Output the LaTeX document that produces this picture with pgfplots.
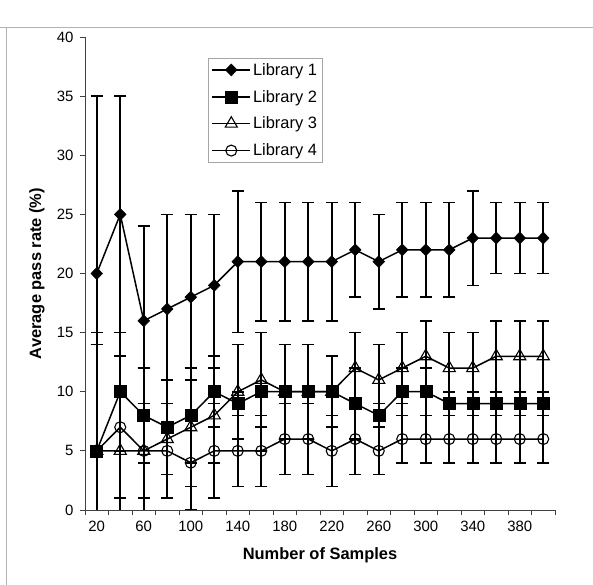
\documentclass[border=0pt]{standalone}
\usepackage{fontspec}
\setmainfont{Liberation Sans}
\usepackage{pgfplots}
\pgfplotsset{compat=1.18}
\usepackage{pgfplotstable}

% i = category index (20,40,...,400), y = mean, e = error
\pgfplotstableread{
i y1 e1 y2 e2 y3 e3 y4 e4
1 20 15 5 10 5 9 5 9
2 25 10 10 5 5 8 7 6
3 16 8 8 4 5 7 5 4
4 17 8 7 4 6 5 5 4
5 18 7 8 4 7 5 4 4
6 19 6 10 3 8 4 5 4
7 21 6 9 1 10 4 5 3
8 21 5 10 5 11 4 5 3
9 21 5 10 4 10 4 6 3
10 21 5 10 4 10 4 6 3
11 21 5 10 3 10 3 5 3
12 22 4 9 3 12 3 6 3
13 21 4 8 1 11 3 5 2
14 22 4 10 2 12 3 6 2
15 22 4 10 2 13 3 6 2
16 22 4 9 1 12 3 6 2
17 23 4 9 1 12 3 6 2
18 23 3 9 1 13 3 6 2
19 23 3 9 1 13 3 6 2
20 23 3 9 1 13 3 6 2
}\passdata

\begin{document}
\begin{tikzpicture}
\useasboundingbox (-85bp,-75bp) rectangle (508bp,510bp);
\draw[gray!60, line width=1bp] (-85bp,482bp) -- (508bp,482bp);
\draw[gray!60, line width=1bp] (-78bp,482bp) -- (-78bp,-75bp);
\begin{axis}[
    at={(0,0)}, anchor=south west,
    width=470bp, height=473bp, scale only axis,
    xmin=0.5, xmax=20.5,
    ymin=0, ymax=40,
    ytick={0,5,...,40},
    xtick={1,3,...,19},
    xticklabels={20,60,100,140,180,220,260,300,340,380},
    minor xtick={0.5,1.5,...,20.5},
    major x tick style={draw=none},
    tick align=outside,
    major tick length=5bp,
    minor tick length=5bp,
    axis x line*=bottom,
    axis y line*=left,
    axis line style={black!75, line width=0.8bp},
    every tick/.style={black!75, line width=0.8bp},
    ticklabel style={font=\fontsize{15}{17}\selectfont},
    /pgf/number format/assume math mode=true,
    xticklabel style={yshift=-3bp},
    yticklabel style={xshift=-3bp},
    xlabel={\textbf{Number of Samples}},
    ylabel={\textbf{Average pass rate (\%)}},
    label style={font=\fontsize{16.5}{18}\selectfont},
    xlabel style={at={(axis description cs:0.5,0)}, anchor=center, yshift=-45bp},
    ylabel style={at={(axis description cs:0,0.5)}, anchor=center, yshift=48bp},
    legend style={at={(0.262,0.956)}, anchor=north west,
        draw=gray!70, line width=0.8bp, fill=white,
        font=\fontsize{16.5}{18}\selectfont,
        row sep=9.5bp, inner sep=3bp},
    legend cell align=left,
    reverse legend,
    legend image code/.code={
        \draw[mark repeat=2, mark phase=2] plot coordinates {(0bp,0bp) (19bp,0bp) (38bp,0bp)};
    },
    every axis plot/.append style={black, line width=1.5bp},
    error bars/y dir=both,
    error bars/y explicit,
    error bars/error bar style={black, line width=1.6bp},
    error bars/error mark options={rotate=90, mark size=6bp, line width=1.6bp, black},
]
\addplot[mark=o, mark size=5.5bp, mark options={solid, line width=1.1bp}]
    table[x=i, y=y4, y error=e4] {\passdata};
\addlegendentry{Library 4}
\addplot[mark=triangle, mark size=7bp, mark options={solid, line width=1.1bp}]
    table[x=i, y=y3, y error=e3] {\passdata};
\addlegendentry{Library 3}
\addplot[mark=square*, mark size=6bp, mark options={fill=black, solid, line width=0.5bp}]
    table[x=i, y=y2, y error=e2] {\passdata};
\addlegendentry{Library 2}
\addplot[mark=diamond*, mark size=6bp, mark options={fill=black, solid, line width=0.5bp, xscale=1.3}]
    table[x=i, y=y1, y error=e1] {\passdata};
\addlegendentry{Library 1}
\end{axis}
\end{tikzpicture}
\end{document}
